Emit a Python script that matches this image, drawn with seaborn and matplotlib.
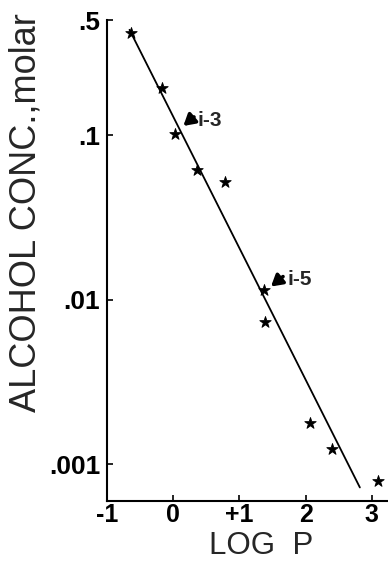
import matplotlib
matplotlib.use("Agg")
import matplotlib.pyplot as plt
import seaborn as sns
import pandas as pd
import numpy as np

# Data
log_p = [-0.63, -0.17, 0.02, 0.36, 0.78, 1.37, 1.39, 2.06, 2.40, 3.10]
conc = [0.417, 0.193, 0.101, 0.0612, 0.0519, 0.0114, 0.00728, 0.00177, 0.00123, 0.000785]

fit_log_p = [-0.66, 2.82]
fit_conc = [0.436, 0.000722]

x_ticks = [-1, 0, 1, 2, 3]
x_ticklabels = ["-1", "0", "+1", "2", "3"]
y_ticks = [0.5, 0.1, 0.01, 0.001]
y_ticklabels = [".5", ".1", ".01", ".001"]

annot_labels = ["i-3", "i-5"]
arrow_tip = [(0.153, 0.1135), (1.477, 0.0120)]
arrow_tail = [(0.314, 0.1288), (1.659, 0.0138)]
annot_text_xy = [(0.36, 0.1233), (1.734, 0.01324)]

sns.set_style("ticks")
plt.rcParams["font.family"] = ["Liberation Sans", "DejaVu Sans"]

fig = plt.figure(figsize=(3.88, 5.62), dpi=100)
ax = fig.add_axes([107 / 388, (562 - 500.7) / 562, 281 / 388, (500.7 - 20) / 562])

pts = pd.DataFrame({"logP": log_p, "conc": conc})
fit = pd.DataFrame({"logP": fit_log_p, "conc": fit_conc})

sns.lineplot(data=fit, x="logP", y="conc", color="black", lw=1.3, ax=ax)
sns.scatterplot(data=pts, x="logP", y="conc", marker="*", s=75, color="black",
                edgecolor="black", linewidth=0.6, ax=ax, zorder=3)

ax.set_yscale("log")
ax.set_xlim(-1, 3.245)
ax.set_ylim(10 ** (-3.222), 0.5)

ax.set_xticks(x_ticks)
ax.set_xticklabels(x_ticklabels, fontsize=18, fontweight="bold")
ax.set_yticks(y_ticks)
ax.set_yticklabels(y_ticklabels, fontsize=19, fontweight="bold")
ax.yaxis.set_minor_locator(matplotlib.ticker.NullLocator())
ax.tick_params(direction="in", length=4, width=1.2, colors="black")
ax.tick_params(axis="y", pad=5)
ax.tick_params(axis="x", pad=2)

for s in ["top", "right"]:
    ax.spines[s].set_visible(False)
for s in ["left", "bottom"]:
    ax.spines[s].set_linewidth(1.5)
    ax.spines[s].set_color("black")

ax.set_xlabel("LOG  P", fontsize=22.5)
ax.xaxis.set_label_coords((261.5 - 107) / 281, (500.7 - 531) / 480.7)
ax.set_ylabel("ALCOHOL CONC.,molar", fontsize=26)
ax.yaxis.set_label_coords((44 - 107) / 281, (500.7 - 212.5) / 480.7)

for lab, tip, tail, txy in zip(annot_labels, arrow_tip, arrow_tail, annot_text_xy):
    ax.annotate("", xy=tip, xytext=tail,
                arrowprops=dict(arrowstyle="-|>,head_length=0.6,head_width=0.35",
                                color="black", lw=2.6, shrinkA=0, shrinkB=0,
                                mutation_scale=11))
    ax.text(txy[0], txy[1], lab, fontsize=15, fontweight="bold",
            va="center", ha="left")

fig.savefig("out.png", dpi=100)
